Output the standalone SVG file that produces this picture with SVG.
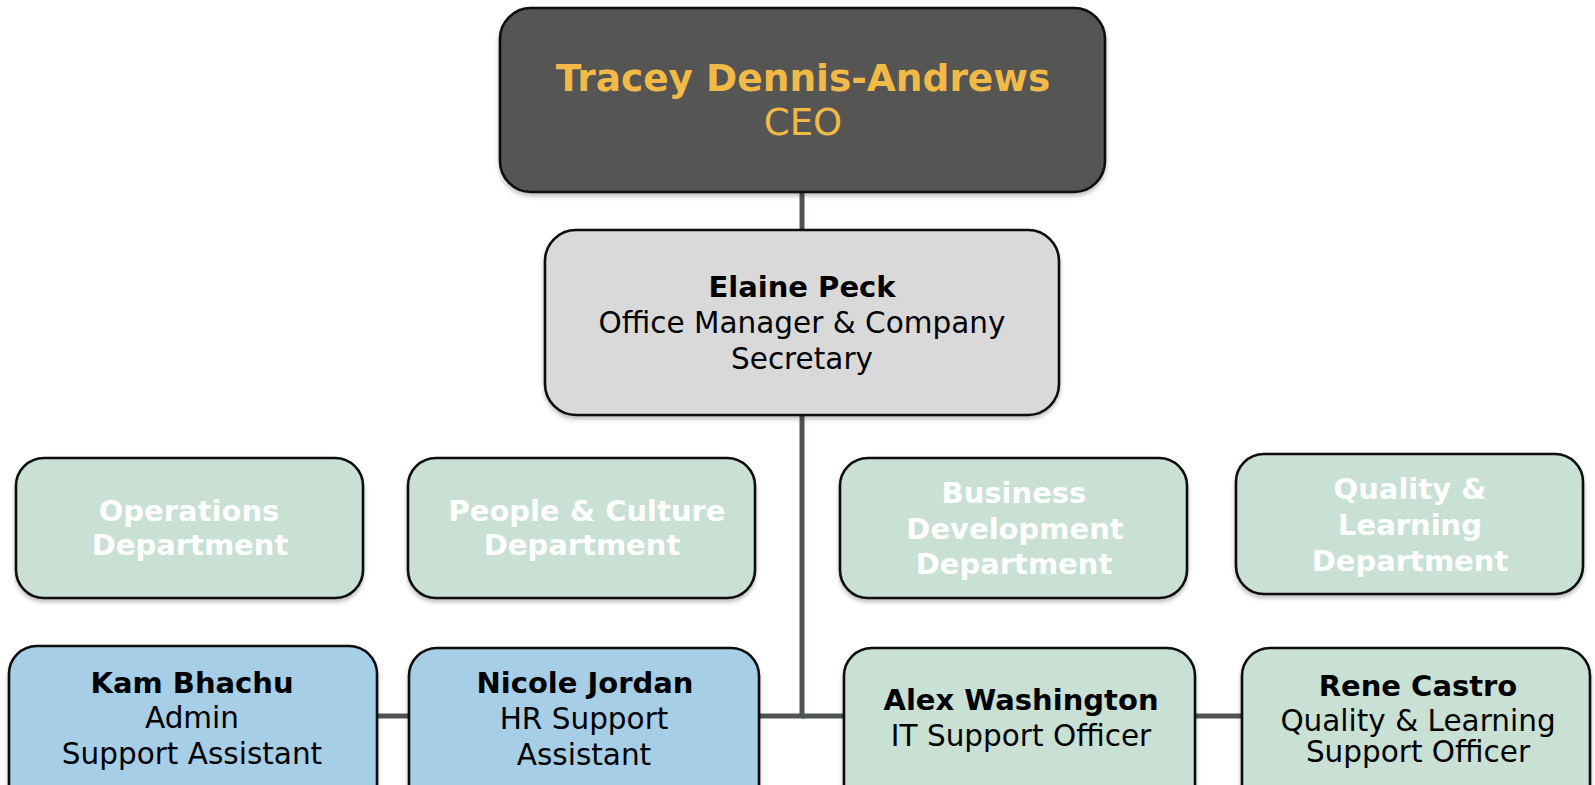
<svg xmlns="http://www.w3.org/2000/svg" width="1595" height="785" viewBox="0 0 1595 785">
<defs>
<filter id="sh" x="-5%" y="-5%" width="110%" height="115%">
<feDropShadow dx="0" dy="3" stdDeviation="2" flood-color="#000" flood-opacity="0.25"/>
</filter>
<style>
.box{stroke:#111;stroke-width:2.6;filter:url(#sh)}
.ceo{fill:#545653}
.mgr{fill:#D9D9D9}
.dept{fill:#C9E0D4}
.blue{fill:#A6CEE6}
.green{fill:#C9E0D4}
text{font-family:"DejaVu Sans","Verdana",sans-serif;text-anchor:middle}
.b{font-weight:bold;font-size:29px;fill:#000}
.r{font-size:29.5px;fill:#000}
.gold{fill:#F1BA47}
.wt{fill:#FFFFFF;font-weight:bold;font-size:29px}
.conn{stroke:#505452;stroke-width:5;fill:none}
</style>
</defs>
<rect width="1595" height="785" fill="#fff"/>
<g id="connectors">
<line class="conn" x1="802" y1="189" x2="802" y2="232"/>
<polyline class="conn" points="802,413 802,716 757,716"/>
<line class="conn" x1="802" y1="716" x2="846" y2="716"/>
<line class="conn" x1="375" y1="716" x2="411" y2="716"/>
<line class="conn" x1="1193" y1="716" x2="1244" y2="716"/>
</g>
<g id="ceo">
<rect class="box ceo" x="500" y="8" width="605" height="184" rx="31"/>
<text class="gold" x="803" y="91" font-size="37.5" font-weight="bold">Tracey Dennis-Andrews</text>
<text class="gold" x="803" y="135" font-size="37">CEO</text>
</g>
<g id="elaine">
<rect class="box mgr" x="545" y="230" width="514" height="185" rx="31"/>
<text class="b" x="802" y="297">Elaine Peck</text>
<text class="r" x="802" y="333" font-size="29.2">Office Manager &amp; Company</text>
<text class="r" x="802" y="369" font-size="29.2">Secretary</text>
</g>
<g id="operations">
<rect class="box dept" x="16" y="458" width="347" height="140" rx="28"/>
<text class="wt" x="189" y="521">Operations</text>
<text class="wt" x="190" y="555">Department</text>
</g>
<g id="people">
<rect class="box dept" x="408" y="458" width="347" height="140" rx="28"/>
<text class="wt" x="587" y="521">People &amp; Culture</text>
<text class="wt" x="582" y="555">Department</text>
</g>
<g id="business">
<rect class="box dept" x="840" y="458" width="347" height="140" rx="28"/>
<text class="wt" x="1014" y="503">Business</text>
<text class="wt" x="1015" y="539">Development</text>
<text class="wt" x="1014" y="574">Department</text>
</g>
<g id="quality">
<rect class="box dept" x="1236" y="454" width="347" height="140" rx="28"/>
<text class="wt" x="1410" y="499">Quality &amp;</text>
<text class="wt" x="1410" y="535">Learning</text>
<text class="wt" x="1410" y="571">Department</text>
</g>
<g id="kam">
<rect class="box blue" x="9" y="646" width="368" height="170" rx="28"/>
<text class="b" x="192" y="693">Kam Bhachu</text>
<text class="r" x="192" y="728">Admin</text>
<text class="r" x="192" y="764">Support Assistant</text>
</g>
<g id="nicole">
<rect class="box blue" x="409" y="648" width="350" height="170" rx="28"/>
<text class="b" x="585" y="693">Nicole Jordan</text>
<text class="r" x="584" y="729">HR Support</text>
<text class="r" x="584" y="765">Assistant</text>
</g>
<g id="alex">
<rect class="box green" x="844" y="648" width="351" height="170" rx="28"/>
<text class="b" x="1021" y="710">Alex Washington</text>
<text class="r" x="1021" y="746" font-size="30.5">IT Support Officer</text>
</g>
<g id="rene">
<rect class="box green" x="1242" y="648" width="348" height="170" rx="28"/>
<text class="b" x="1418" y="696">Rene Castro</text>
<text class="r" x="1418" y="731" font-size="26.3">Quality &amp; Learning</text>
<text class="r" x="1418" y="762" font-size="26.3">Support Officer</text>
</g>
</svg>
